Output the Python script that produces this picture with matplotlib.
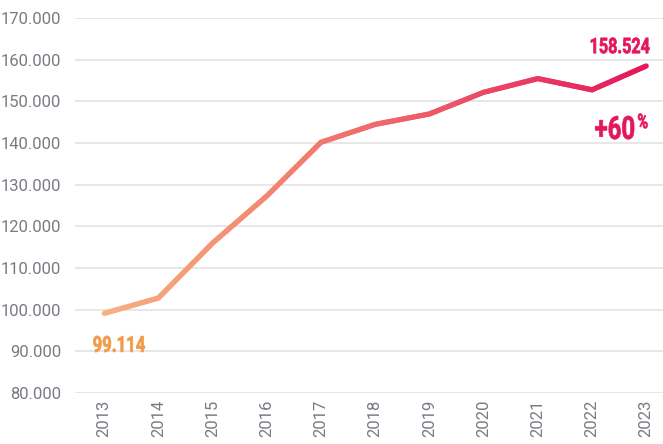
import numpy as np
import matplotlib
matplotlib.use("Agg")
import matplotlib.pyplot as plt
import matplotlib.ticker as ticker
from matplotlib.collections import LineCollection
from matplotlib.colors import LinearSegmentedColormap
from matplotlib.textpath import TextPath
from matplotlib.patches import PathPatch
from matplotlib.font_manager import FontProperties
from matplotlib.transforms import Affine2D, ScaledTranslation

years = [2013, 2014, 2015, 2016, 2017, 2018, 2019, 2020, 2021, 2022, 2023]
values = [99.114, 102.8, 116.0, 127.3, 140.2, 144.5, 147.0, 152.2, 155.5, 152.8, 158.524]
first_label = "99.114"
last_label = "158.524"
growth_label = "+60"

cmap = LinearSegmentedColormap.from_list("grad", ["#f7b183", "#f3826f", "#ec5068", "#e5185a"])

fig = plt.figure(figsize=(6.63, 4.44), dpi=100)
ax = fig.add_axes([0.113, 0.115, 0.887, 0.844])


def narrow_text(x, y, s, size, color, sx=0.75, ha="left"):
    # condensed bold text: squeeze a Roboto Bold path horizontally
    fp = FontProperties(family="Roboto", weight="bold")
    tp = TextPath((0, 0), s, size=size, prop=fp)
    bb = tp.get_extents()
    x0 = -bb.x0 if ha == "left" else -bb.x1
    tr = (Affine2D().translate(x0, 0).scale(sx / 72.0, 1 / 72.0)
          + fig.dpi_scale_trans + ScaledTranslation(x, y, ax.transData))
    ax.add_patch(PathPatch(tp, transform=tr, facecolor=color, edgecolor=color,
                           lw=0.5, clip_on=False, zorder=4))


# gradient line, split into small pieces so the colour changes smoothly
x = np.array(years, dtype=float)
y = np.array(values)
xs, ys = [], []
for i in range(len(x) - 1):
    t = np.linspace(0, 1, 20, endpoint=False)
    xs.extend(x[i] + (x[i + 1] - x[i]) * t)
    ys.extend(y[i] + (y[i + 1] - y[i]) * t)
xs.append(x[-1]); ys.append(y[-1])
pts = np.array([xs, ys]).T.reshape(-1, 1, 2)
segs = np.concatenate([pts[:-1], pts[1:]], axis=1)
lc = LineCollection(segs, cmap=cmap, linewidth=3.8, capstyle="round", joinstyle="round", zorder=3)
lc.set_array(np.linspace(0, 1, len(segs)))
ax.add_collection(lc)

ax.set_xlim(2012.46, 2023.31)
ax.set_ylim(80, 170)
ax.set_yticks(np.arange(80, 171, 10))
ax.yaxis.set_major_formatter(ticker.FuncFormatter(lambda v, p: f"{v:.3f}"))
ax.set_xticks(years)
ax.set_xticklabels([str(yr) for yr in years], rotation=90)
ax.grid(axis="y", color="#e3e3e3", linewidth=1.2)
ax.set_axisbelow(True)
for s in ax.spines.values():
    s.set_visible(False)
ax.tick_params(axis="both", length=0, labelsize=12, labelcolor="#7a7a84")
ax.tick_params(axis="y", pad=10)
ax.tick_params(axis="x", pad=5)
for lab in ax.get_xticklabels() + ax.get_yticklabels():
    lab.set_family(["Roboto", "DejaVu Sans"])
    lab.set_fontweight("normal")

narrow_text(2012.80, 89.85, first_label, 16, "#f29a48")
narrow_text(2023.06, 161.6, last_label, 15.5, "#e3175b", ha="right")
narrow_text(2022.06, 141.0, growth_label, 23, "#e3175b")
narrow_text(2022.85, 143.6, "%", 14.5, "#e3175b", sx=0.72)

fig.savefig("out.png", dpi=100)
